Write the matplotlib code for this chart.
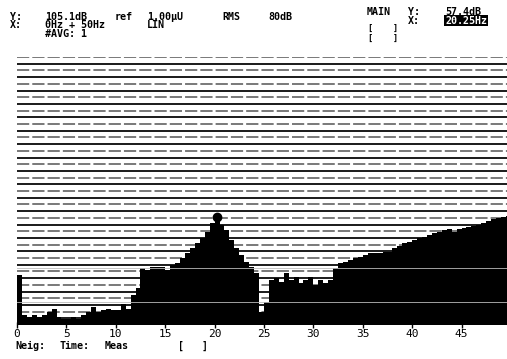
import numpy as np
import matplotlib.pyplot as plt

# Spectrum, 0.5 Hz bins (start freq), levels in dB
freq = np.arange(0, 50, 0.5)
level = [40.0, 28.0, 27.5, 28.0, 27.5, 28.0, 29.0, 30.0, 27.5, 27.0,
         27.0, 27.5, 27.0, 28.0, 29.0, 30.5, 29.0, 29.5, 30.0, 29.5,
         29.5, 31.5, 30.0, 34.0, 36.0, 42.0, 41.5, 42.5, 42.5, 42.5,
         41.5, 43.0, 43.5, 45.0, 46.5, 48.0, 49.5, 51.0, 53.0, 55.5,
         57.4, 55.0, 53.5, 50.5, 48.0, 46.0, 44.0, 42.5, 40.5, 29.0,
         32.0, 38.5, 39.0, 38.0, 40.5, 38.5, 39.5, 37.5, 38.5, 39.5,
         37.0, 38.5, 37.5, 38.5, 42.0, 43.5, 44.0, 44.5, 45.0, 45.5,
         46.0, 46.5, 46.5, 46.5, 47.0, 47.0, 48.0, 48.7, 49.5, 50.0,
         50.5, 51.0, 51.5, 52.0, 52.5, 53.0, 53.5, 53.8, 52.8, 53.8,
         54.0, 54.3, 54.7, 55.0, 55.5, 56.0, 56.8, 57.0, 57.3, 57.5]

ref_db = 105.1
span_db = 80
marker_f = 20.25
marker_db = 57.4
ticks = [0, 5, 10, 15, 20, 25, 30, 35, 40, 45]

mono = "DejaVu Sans Mono"
fs = 7.2
W, H = 507, 359


def put(x, y, s, size=fs, **kw):
    # x, y in pixels from the top-left corner, y = baseline
    fig.text(x / W, 1 - y / H, s, family=mono, fontsize=size, va="baseline",
             fontweight="bold", **kw)


fig = plt.figure(figsize=(5.07, 3.59), dpi=100)
ax = fig.add_axes([17 / W, 1 - 325 / H, 1 - 17 / W, (325 - 57) / H])
ax.set_xlim(0, 49.6)
ax.set_ylim(ref_db - span_db, ref_db)

# scan lines across the screen every 2 dB
for i, yl in enumerate(np.arange(ref_db - span_db + 2, ref_db + 0.1, 2)):
    if i % 2 == 0:
        ax.axhline(yl, color="#1a1a1a", lw=1.4, zorder=1)
    else:
        ax.axhline(yl, color="#555555", lw=1.1, ls=(0, (8, 2)), zorder=1)

ax.bar(freq, np.array(level) - (ref_db - span_db), width=0.5, align="edge",
       bottom=ref_db - span_db, color="black", zorder=2)
# faint lines through the dark mass
for yl in [32.0, 42.0]:
    ax.axhline(yl, color="#bbbbbb", lw=0.6, zorder=3)

ax.plot([marker_f], [marker_db], "o", color="black", ms=6, zorder=4)

for s in ax.spines.values():
    s.set_visible(False)
ax.axhline(ref_db - span_db, color="black", lw=1.2, zorder=4)
ax.set_xticks(ticks)
ax.set_xticklabels([str(t) for t in ticks], fontfamily=mono, fontsize=8)
ax.tick_params(axis="x", direction="inout", length=4, pad=1, width=1)
ax.set_yticks([])

# header text
put(10, 20, "Y:")
put(45, 20, "105.1dB")
put(115, 20, "ref")
put(147, 20, "1.00\u03bcU")
put(222, 20, "RMS")
put(268, 20, "80dB")
put(10, 28.5, "X:")
put(45, 28.5, "0Hz + 50Hz")
put(147, 28.5, "LIN")
put(45, 37, "#AVG: 1")

put(367, 15, "MAIN")
put(408, 15, "Y:")
put(445, 15, "57.4dB")
put(408, 23.5, "X:")
put(445, 23.5, "20.25Hz", color="white",
    bbox=dict(facecolor="black", edgecolor="none", pad=0.5))
put(368, 31, "[    ]", size=6)
put(368, 41, "[    ]", size=6)

put(15, 349, "Neig:")
put(60, 349, "Time:")
put(105, 349, "Meas")
put(178, 349, "[   ]")

fig.savefig("out.png", dpi=100)
